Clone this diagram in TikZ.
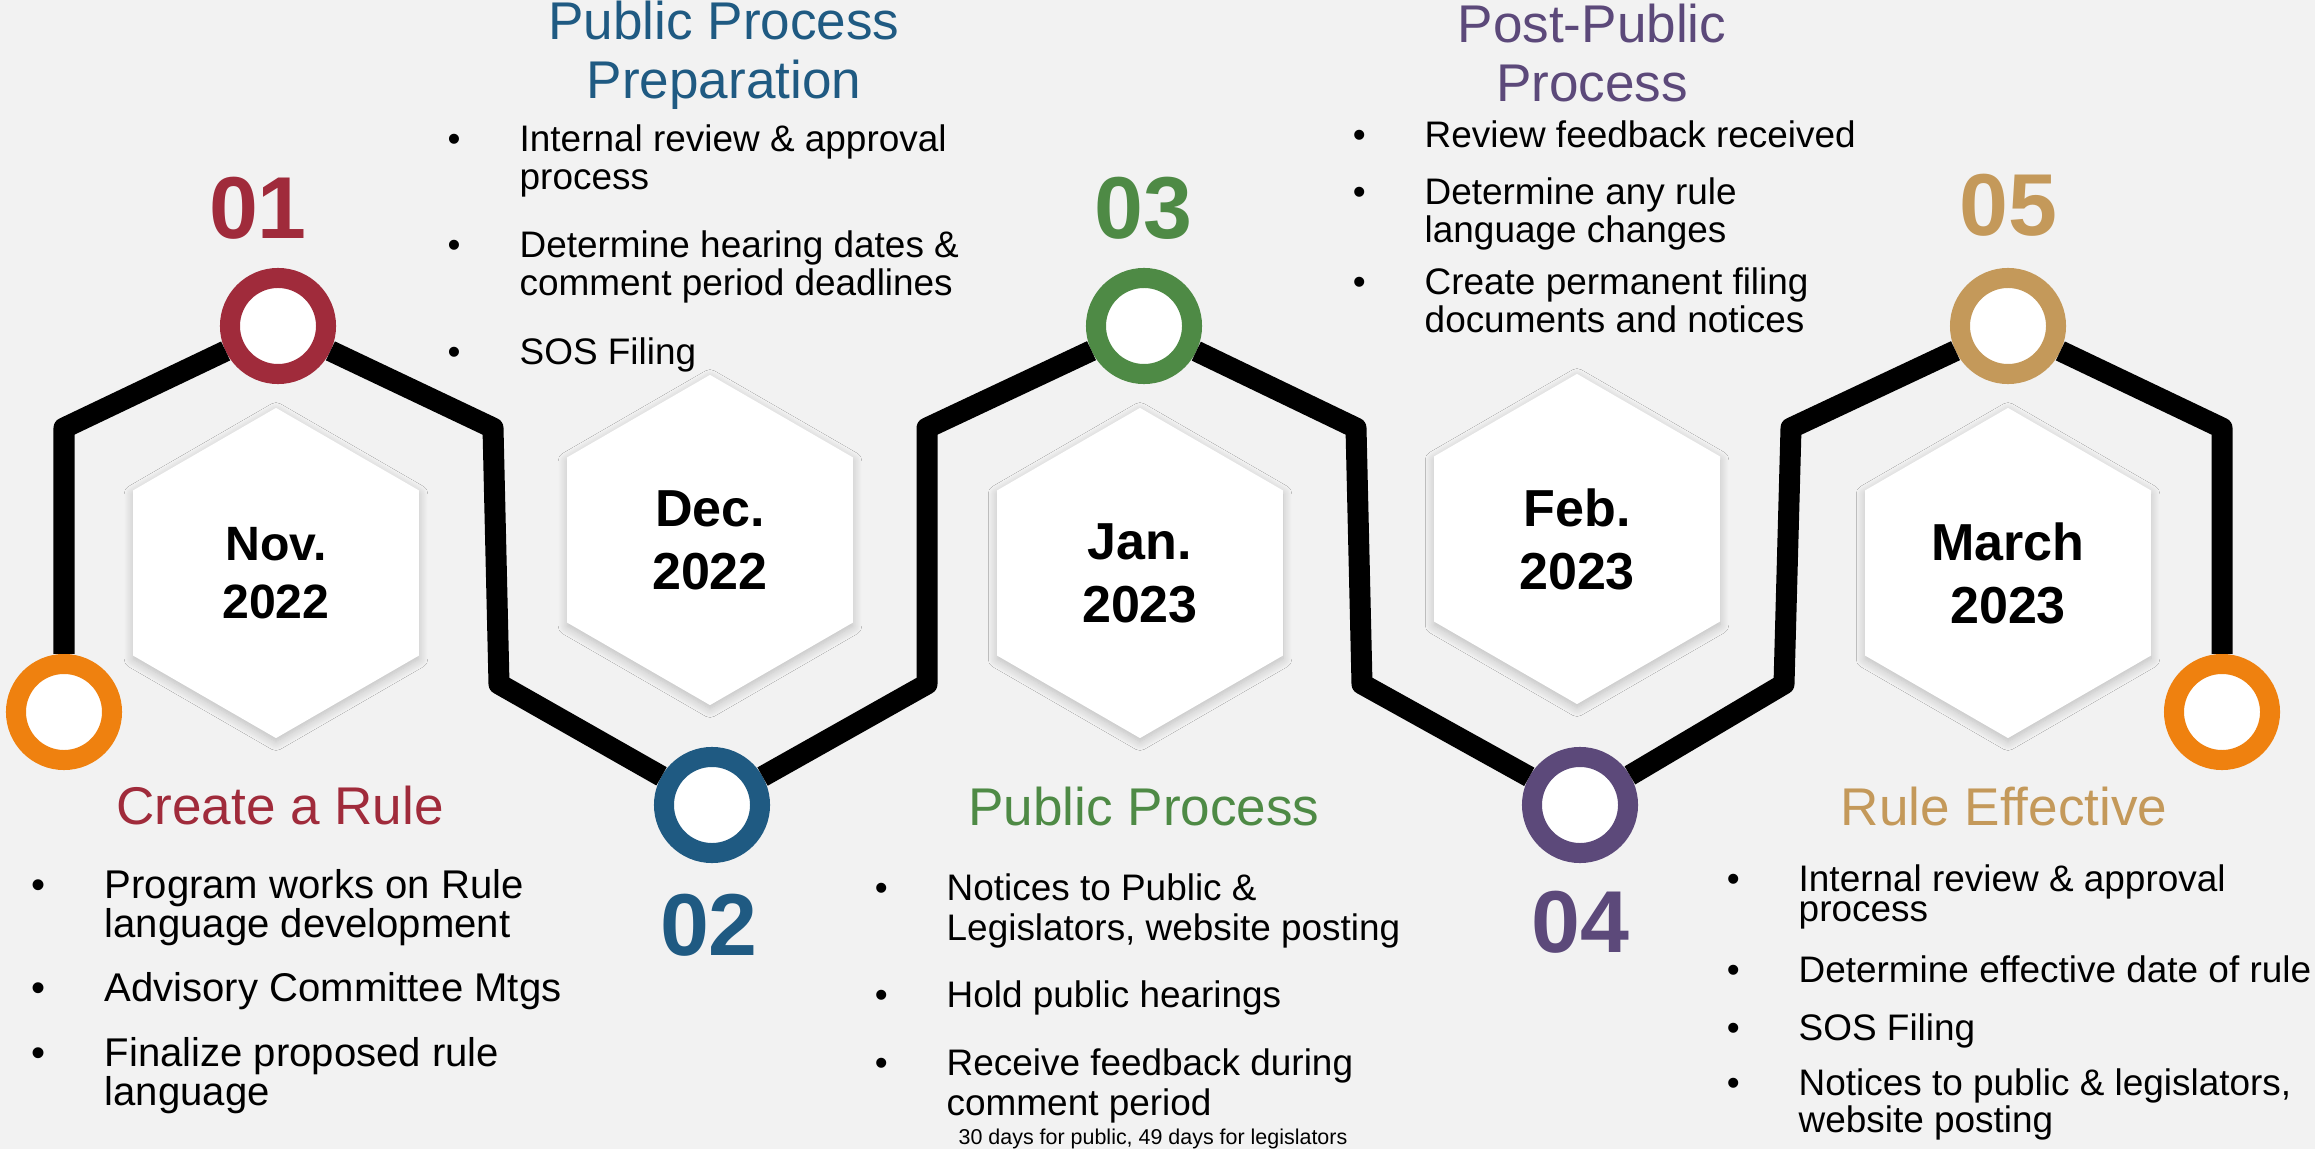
\documentclass[tikz,border=0pt]{standalone}
\usepackage{fontspec}
\setmainfont{Liberation Sans}
\usetikzlibrary{shapes.geometric,shadows.blur}

\definecolor{bgray}{HTML}{F2F2F2}
\definecolor{cred}{HTML}{A02B3B}
\definecolor{cblue}{HTML}{1F5A82}
\definecolor{cgreen}{HTML}{4E8A45}
\definecolor{cpurple}{HTML}{5C497A}
\definecolor{ctan}{HTML}{C4995A}
\definecolor{corange}{HTML}{EF810F}

\setlength{\lineskiplimit}{-20pt}
\newcommand{\fsz}[2]{\fontsize{#1}{#2}\selectfont}
\newcommand{\bitem}[1]{\llap{\textbullet\hspace{0.59cm}}\parbox[t]{7cm}{#1}}
\newcommand{\twolines}[1]{\parbox[t]{6cm}{\centering #1}}

\begin{document}
\begin{tikzpicture}
[x=0.01cm,y=-0.01cm,
hexbox/.style={regular polygon,regular polygon sides=6,shape border rotate=30,minimum size=3.3cm,inner sep=0pt,fill=white,align=center,font=\bfseries\fsz{14.8}{17.9},blur shadow={shadow xshift=0pt,shadow yshift=-1pt,shadow blur radius=2.5pt,shadow blur steps=10,shadow opacity=22}},
ring/.style={circle,draw=#1,line width=0.2cm,fill=white,minimum size=0.96cm,inner sep=0pt},
num/.style={anchor=base,text=#1,font=\bfseries\fsz{25}{30}},
ttl/.style={anchor=base,text=#1,font=\fsz{15.1}{16.5}},
itm/.style args={#1/#2}{anchor=base west,inner sep=0pt,font=\fsz{#1}{#2}},
path line/.style={line width=0.21cm,line join=round}]

\useasboundingbox[fill=bgray] (0,0) rectangle (2315,1149);

% hexagons with the dates
\node[hexbox,font=\bfseries\fsz{13.7}{16.5}] (h1) at (276,573) {Nov.\\2022};
\node[hexbox] (h2) at (710,540) {Dec.\\2022};
\node[hexbox] (h3) at (1140,573) {Jan.\\2023};
\node[hexbox] (h4) at (1577,539) {Feb.\\2023};
\node[hexbox] (h5) at (2008,573) {March\\2023};

% rings
\node[ring=corange] (o1) at (64,712) {};
\node[ring=cred] (c1) at (278,326) {};
\node[ring=cblue] (c2) at (712,805) {};
\node[ring=cgreen] (c3) at (1144,326) {};
\node[ring=cpurple] (c4) at (1580,805) {};
\node[ring=ctan] (c5) at (2008,326) {};
\node[ring=corange] (o2) at (2222,712) {};

\coordinate (k1) at (64,428);
\coordinate (k2) at (493,428);
\coordinate (k3) at (499,684);
\coordinate (k4) at (927,684);
\coordinate (k5) at (927,428);
\coordinate (k6) at (1356,428);
\coordinate (k7) at (1362,684);
\coordinate (k8) at (1784,684);
\coordinate (k9) at (1791,428);
\coordinate (k10) at (2222,428);

\draw[path line] (o1) -- (k1) -- (c1) -- (k2) -- (k3) -- (c2) -- (k4) -- (k5) -- (c3)
  -- (k6) -- (k7) -- (c4) -- (k8) -- (k9) -- (c5) -- (k10) -- (o2);

% step numbers
\node[num=cred] (n1) at (258,239) {01};
\node[num=cblue] (n2) at (709,955) {02};
\node[num=cgreen] (n3) at (1143,239) {03};
\node[num=cpurple] (n4) at (1580,952) {04};
\node[num=ctan] (n5) at (2008,236) {05};

% titles
\node[ttl=cred] (t1) at (280,824) {Create a Rule};
\node[ttl=cblue] (t2) at (724,40) {\twolines{Public Process\\Preparation}};
\node[ttl=cgreen] (t3) at (1144,825) {Public Process};
\node[ttl=cpurple] (t4) at (1592,43) {\twolines{Post-Public\\Process}};
\node[ttl=ctan] (t5) at (2004,825) {Rule Effective};

% Create a Rule
\node[itm=11.4/11.1] (a1) at (104,898) {\bitem{Program works on Rule\\language development}};
\node[itm=11.4/11.1] (a2) at (104,1001) {\bitem{Advisory Committee Mtgs}};
\node[itm=11.4/11.1] (a3) at (104,1066) {\bitem{Finalize proposed rule\\language}};

% Public Process Preparation
\node[itm=10.5/10.8] (b1) at (519,152) {\bitem{Internal review \& approval\\process}};
\node[itm=10.5/10.8] (b2) at (519,258) {\bitem{Determine hearing dates \&\\comment period deadlines}};
\node[itm=10.5/10.8] (b3) at (519,365) {\bitem{SOS Filing}};

% Public Process
\node[itm=10.5/11.4] (p1) at (946,900) {\bitem{Notices to Public \&\\Legislators, website posting}};
\node[itm=10.5/11.4] (p2) at (946,1007) {\bitem{Hold public hearings}};
\node[itm=10.5/11.4] (p3) at (946,1075) {\bitem{Receive feedback during\\comment period}};
\node[anchor=base,font=\fsz{6.1}{7}] (p4) at (1153,1144) {30 days for public, 49 days for legislators};

% Post-Public Process
\node[itm=10.5/8.8] (d1) at (1424,148) {\bitem{Review feedback received}};
\node[itm=10.5/8.8] (d2) at (1424,205) {\bitem{Determine any rule\\language changes}};
\node[itm=10.5/8.8] (d3) at (1424,295) {\bitem{Create permanent filing\\documents and notices}};

% Rule Effective
\node[itm=10.5/8.8] (e1) at (1798,891) {\bitem{Internal review \& approval\\process}};
\node[itm=10.5/8.8] (e2) at (1798,982) {\bitem{Determine effective date of rule}};
\node[itm=10.5/8.8] (e3) at (1798,1040) {\bitem{SOS Filing}};
\node[itm=10.5/8.8] (e4) at (1798,1095) {\bitem{Notices to public \& legislators,\\website posting}};
\end{tikzpicture}
\end{document}
